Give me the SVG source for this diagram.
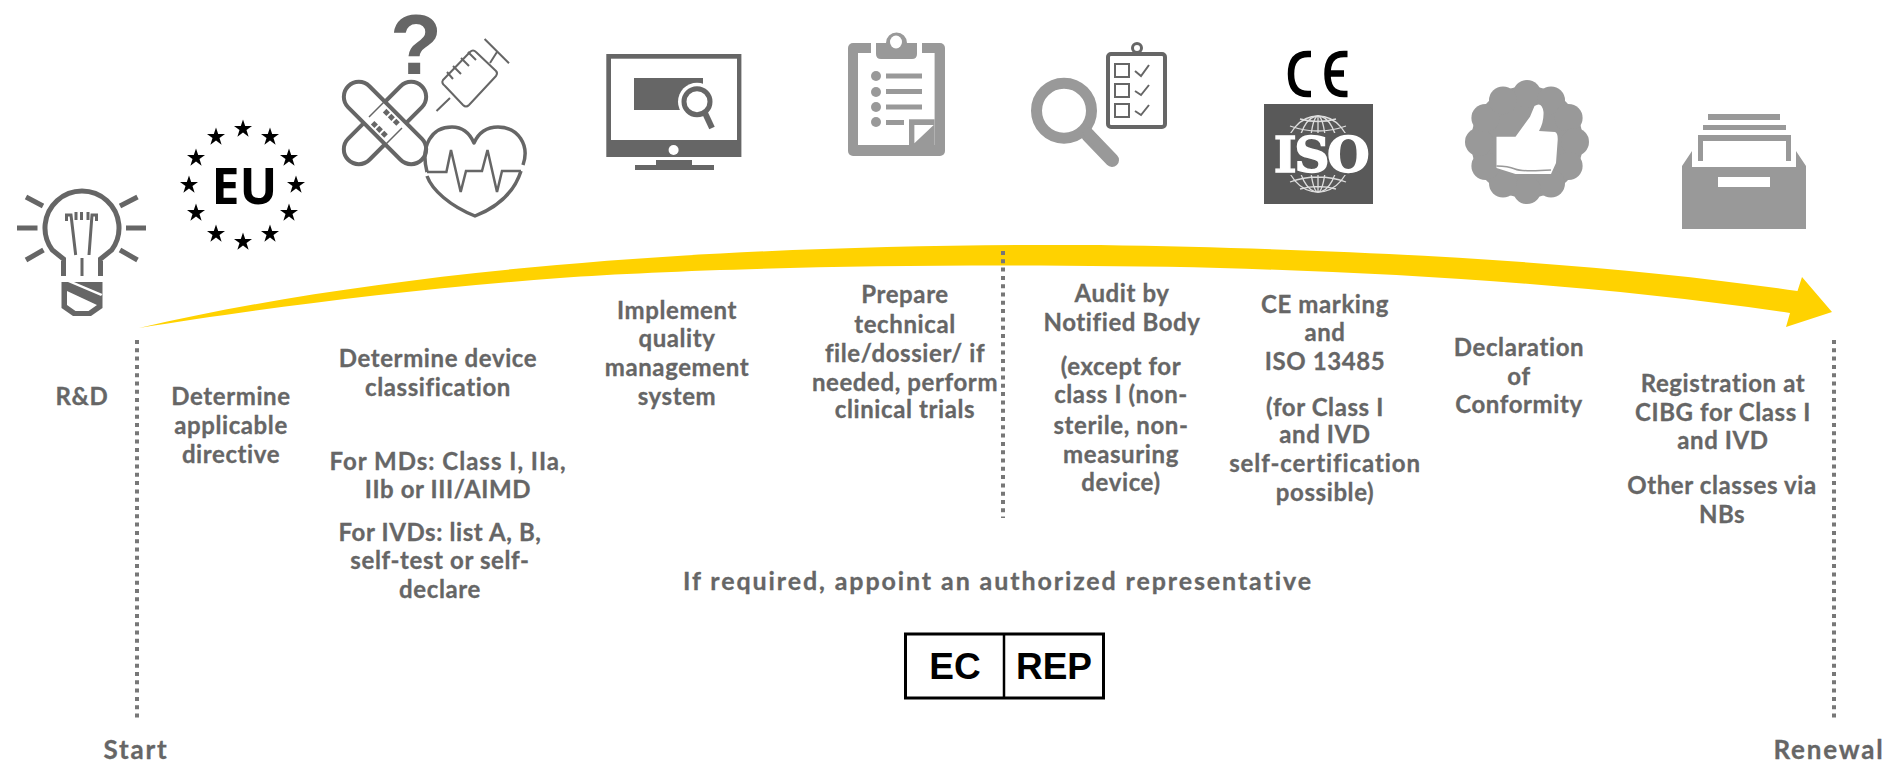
<svg xmlns="http://www.w3.org/2000/svg" width="1882" height="760" viewBox="0 0 1882 760">
<defs>
<style>
text{font-family:"Lato","Liberation Sans",sans-serif;font-weight:700;font-size:24px;fill:#666;text-anchor:middle;letter-spacing:.6px}
#labels text{stroke:#666;stroke-width:.3px}
.d{fill:#666}.m{fill:#999}.w{fill:#fff}
.sd{fill:none;stroke:#666}.sm{fill:none;stroke:#999}
.dot{fill:none;stroke:#777;stroke-width:4;stroke-dasharray:4 4.300}
.sym{font-family:"Liberation Sans",sans-serif;fill:#000;letter-spacing:0}
</style>
<path id="s" d="M0-9.5 2.2-3 9-3 3.5 1 5.6 7.7 0 3.6-5.6 7.7-3.5 1-9-3-2.2-3Z"/>
<clipPath id="globe"><path d="M1280 110H1356V133H1280ZM1280 175H1356V198H1280Z"/></clipPath>
</defs>
<g id="connectors">
<path d="M139 328C380 272 700 243 1100 245C1400 250 1620 265 1797.500 291L1802 277L1832 312L1786 327L1790 313C1600 285 1400 273 1220 268C950 262 700 268 560 278C400 290 250 310 139 328Z" fill="#ffd200"/>
<path class="dot" d="M137 340V720M1003 251V518M1834 340V720"/>
</g>
<g id="bulb">
<g class="sd" stroke-width="5">
<path d="M17 228H37.500M126 228H146M26 197 43 206M137.500 197 120 206M26 260 43.500 250M137.500 260 120 250"/>
<path d="M63.500 276V259L52.300 250A37 37 0 1 1 111.700 250L100.500 259V276"/>
</g>
<g class="sd" stroke-width="3"><path d="M82 258V276M76 212V220M81.500 212V220M88 212V220M66.500 221V215H71L75.700 255M96.500 221V215H92L89 255"/></g>
<path class="d" d="M61.500 282H102.500V308L91 316H73L61.500 308Z"/>
<path class="w" d="M68 282 101 296 102.500 294 74 282ZM67 291 97 305 88.500 311H75.500L67 305Z"/>
</g>
<g id="eu">
<use href="#s" x="243" y="129"/><use href="#s" x="270" y="137"/><use href="#s" x="289" y="158"/><use href="#s" x="296" y="185"/><use href="#s" x="289" y="213"/><use href="#s" x="270" y="234"/><use href="#s" x="243" y="242"/><use href="#s" x="216" y="234"/><use href="#s" x="196" y="213"/><use href="#s" x="189" y="185"/><use href="#s" x="196" y="158"/><use href="#s" x="216" y="137"/>
<text x="244.500" y="204" style="font-family:'Noto Sans',sans-serif;font-size:50px;fill:#000;letter-spacing:0">EU</text>
</g>
<g id="clinical">
<text x="416" y="74" style="font-family:'Liberation Sans',sans-serif;font-size:85px;letter-spacing:0">?</text>
<g class="sd" stroke-width="4">
<rect x="333" y="108" width="104" height="30" rx="15" transform="rotate(-45 385 123)"/>
<rect x="333" y="108" width="104" height="30" rx="15" transform="rotate(45 385 123)" class="w" style="stroke:#666;stroke-width:4"/>
</g>
<path class="sd" stroke-width="1.500" d="M369 117 385 101M385 145 402 128"/>
<g class="d" transform="rotate(45 385 123)"><rect x="376" y="112" width="5" height="5"/><rect x="383" y="112" width="5" height="5"/><rect x="390" y="112" width="5" height="5"/><rect x="376" y="129" width="5" height="5"/><rect x="383" y="129" width="5" height="5"/><rect x="390" y="129" width="5" height="5"/></g>
<g class="sd" stroke-width="2" stroke-linejoin="round">
<path d="M443 80 470 52Q473 49 476 52L496 71Q498 73 496 76L469 105Q466 108 463 105L445 86Q441 83 443 80Z"/>
<path d="M436.500 111 450 98M490 63 497 52M484.600 39 509 63.300M447 72 453 79M453 66 461 74M461 58 469 66M468 52 476 60"/>
</g>
<path class="sd" stroke-width="3.500" stroke-linejoin="round" d="M427 172C420 145 432 127 452 127C463 127 470 134 474 143C478 134 486 127 498 127C518 127 530 145 523 165M427 176C432 190 450 206 475 216C500 206 515 190 521 171"/>
<path class="sd" stroke-width="2.500" d="M427 172H446.400L451 150 460.700 192 466 171H482L487.500 150 497 192 502 171H521"/>
</g>
<g id="monitor">
<path class="d" d="M606.300 54H741.400V157H606.300Z"/>
<rect class="w" x="611" y="58.700" width="126" height="81.300"/>
<circle class="w" cx="673.600" cy="150" r="5"/>
<path class="d" d="M656 160H692V165H714V170H635V165H656ZM634 78H703V110H634Z"/>
<circle class="w" cx="697" cy="101.700" r="19"/>
<circle cx="697" cy="101.700" r="13" fill="#fff" stroke="#666" stroke-width="5"/>
<path class="sd" stroke-width="6" d="M705 113 712 128"/>
</g>
<g id="clipboard">
<rect class="m" x="848" y="43" width="97" height="113" rx="5"/>
<rect class="w" x="858" y="53" width="76.600" height="92"/>
<rect class="w" x="871" y="43" width="51" height="10"/>
<path class="m" d="M876 43H886A10 10 0 0 1 907 43H917V54Q917 59 912 59H881Q876 59 876 54Z"/>
<ellipse class="w" cx="896" cy="42" rx="6" ry="6.500"/>
<path class="m" d="M909 119.300H934.600V145H909Z"/>
<path class="w" d="M914.400 125H933.700L914.400 143.300Z"/>
<g class="m"><circle cx="876" cy="76" r="5"/><circle cx="876" cy="92" r="5"/><circle cx="876" cy="107" r="5"/><circle cx="876" cy="122" r="5"/><rect x="886" y="73.500" width="36" height="5"/><rect x="886" y="89" width="36" height="5"/><rect x="886" y="104.500" width="36" height="5"/><rect x="886" y="120" width="18" height="5"/></g>
</g>
<g id="audit">
<circle class="sm" cx="1064" cy="110.700" r="27.500" stroke-width="11"/>
<path class="sm" stroke-width="14" d="M1088 135 1112 160" style="stroke-linecap:round"/>
<path d="M1086 130 1097 143" class="sm" stroke-width="10"/>
<circle class="sd" cx="1137" cy="48" r="4.500" stroke-width="3"/>
<rect class="sd" x="1108" y="54" width="57" height="73" rx="3" stroke-width="4"/>
<g class="sd" stroke-width="2"><rect x="1115" y="64" width="14" height="13"/><rect x="1115" y="84" width="14" height="13"/><rect x="1115" y="104" width="14" height="13"/><path d="M1135 71 1141 76 1149 65M1135 91 1141 95 1149 85M1135 111 1141 115 1149 105"/></g>
</g>
<g id="certification">
<path d="M1311 54H1308C1295 54 1291 63 1291 74S1295 94 1308 94H1311M1347.500 54H1344C1331 54 1327.500 63 1327.500 74S1331 94 1344 94H1347.500M1328 73.500H1344" fill="none" stroke="#000" stroke-width="6.500"/>
<rect x="1264" y="104" width="109" height="100" fill="#595959"/>
<g clip-path="url(#globe)" fill="none" stroke="#ddd" stroke-width="1.300">
<ellipse cx="1318" cy="154" rx="32.500" ry="38"/><ellipse cx="1318" cy="154" rx="20" ry="38"/><ellipse cx="1318" cy="154" rx="8" ry="38"/>
<path d="M1318 116V192M1290 126Q1318 136 1346 126M1300 119Q1318 124 1336 119M1290 182Q1318 172 1346 182M1300 189Q1318 184 1336 189"/>
</g>
<text x="1320.500" y="172" style="font-family:'DejaVu Serif',serif;font-size:49px;fill:#fff;letter-spacing:-2.500px;font-weight:700;stroke:#fff;stroke-width:1.400px">ISO</text>
</g>
<g id="approval">
<g class="m"><circle cx="1527" cy="142" r="56"/><circle cx="1527" cy="94" r="14"/><circle cx="1551" cy="100.400" r="14"/><circle cx="1568.600" cy="118" r="14"/><circle cx="1575" cy="142" r="14"/><circle cx="1568.600" cy="166" r="14"/><circle cx="1551" cy="183.600" r="14"/><circle cx="1527" cy="190" r="14"/><circle cx="1503" cy="183.600" r="14"/><circle cx="1485.400" cy="166" r="14"/><circle cx="1479" cy="142" r="14"/><circle cx="1485.400" cy="118" r="14"/><circle cx="1503" cy="100.400" r="14"/></g>
<path class="w" d="M1496.500 136.700H1515.500L1530 116.700 1534.500 106Q1542 101 1543.500 112 1544 122 1539 131L1555 132Q1558 133 1557.700 140L1556 163 1551 174H1515.500L1496.500 168Z"/>
<path class="sm" stroke-width="1.500" d="M1496.500 166Q1508 166 1515 169T1551 170"/>
</g>
<g id="archive">
<path class="m" d="M1708 114H1780V120H1708ZM1703 125H1786V130H1703ZM1698 135H1791V161H1786V141H1703V161H1698ZM1682 166 1692 151V167H1796V151L1806 166V229H1682Z"/>
<rect class="w" x="1718" y="177" width="52" height="10"/>
</g>
<g id="labels" transform="translate(0 1)">
<text x="82" y="404">R&amp;D</text>
<text x="231" y="404">Determine</text><text x="231" y="433">applicable</text><text x="231" y="462">directive</text>
<text x="438" y="366">Determine device</text><text x="438" y="395">classification</text>
<text x="448" y="469" style="letter-spacing:1px">For MDs: Class I, IIa,</text><text x="448" y="497">IIb or III/AIMD</text>
<text x="440" y="540">For IVDs: list A, B,</text><text x="440" y="568">self-test or self-</text><text x="440" y="597">declare</text>
<text x="677" y="318">Implement</text><text x="677" y="346">quality</text><text x="677" y="375">management</text><text x="677" y="404">system</text>
<text x="905" y="302">Prepare</text><text x="905" y="332">technical</text><text x="905" y="361">file/dossier/ if</text><text x="905" y="390">needed, perform</text><text x="905" y="417">clinical trials</text>
<text x="1122" y="301">Audit by</text><text x="1122" y="330">Notified Body</text>
<text x="1121" y="374">(except for</text><text x="1121" y="402">class I (non-</text><text x="1121" y="433">sterile, non-</text><text x="1121" y="462">measuring</text><text x="1121" y="490">device)</text>
<text x="1325" y="312">CE marking</text><text x="1325" y="340">and</text><text x="1325" y="369">ISO 13485</text>
<text x="1325" y="415">(for Class I</text><text x="1325" y="442">and IVD</text><text x="1325" y="471" style="letter-spacing:.9px">self-certification</text><text x="1325" y="500">possible)</text>
<text x="1519" y="355">Declaration</text><text x="1519" y="384">of</text><text x="1519" y="412">Conformity</text>
<text x="1723" y="391">Registration at</text><text x="1723" y="420">CIBG for Class I</text><text x="1723" y="448">and IVD</text>
<text x="1722" y="493">Other classes via</text><text x="1722" y="522">NBs</text>
<text x="998" y="589" style="font-size:25px;letter-spacing:1.900px">If required, appoint an authorized representative</text>
<text x="136" y="758" style="font-size:26px;letter-spacing:1.800px">Start</text><text x="1829" y="758" style="font-size:26px;letter-spacing:1.800px">Renewal</text>
</g>
<g id="ecrep">
<rect x="905.500" y="634" width="198" height="64" fill="#fff" stroke="#000" stroke-width="3"/>
<path d="M1004 634V698" stroke="#000" stroke-width="2.500"/>
<text class="sym" x="955" y="679" style="font-size:37px">EC</text>
<text class="sym" x="1054" y="679" style="font-size:37px">REP</text>
</g>
</svg>
